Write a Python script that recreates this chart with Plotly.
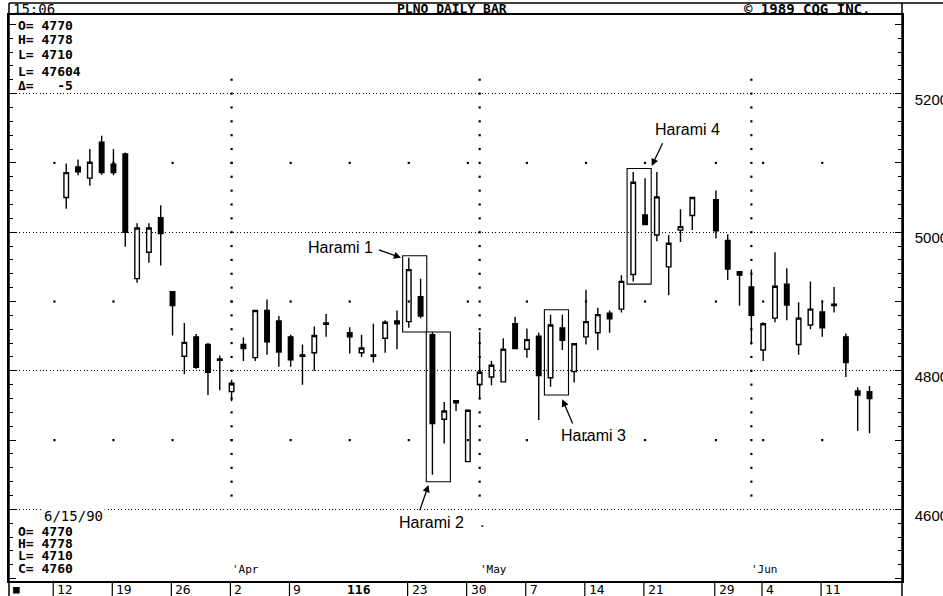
import numpy as np
import plotly.graph_objects as go

# ---------------- data ----------------
dates = [
    "1990-03-13", "1990-03-14", "1990-03-15", "1990-03-16", "1990-03-19",
    "1990-03-20", "1990-03-21", "1990-03-22", "1990-03-23", "1990-03-26",
    "1990-03-27", "1990-03-28", "1990-03-29", "1990-03-30", "1990-04-02",
    "1990-04-03", "1990-04-04", "1990-04-05", "1990-04-06", "1990-04-09",
    "1990-04-10", "1990-04-11", "1990-04-12", "1990-04-16", "1990-04-17",
    "1990-04-18", "1990-04-19", "1990-04-20", "1990-04-23", "1990-04-24",
    "1990-04-25", "1990-04-26", "1990-04-27", "1990-04-30", "1990-05-01",
    "1990-05-02", "1990-05-03", "1990-05-04", "1990-05-07", "1990-05-08",
    "1990-05-09", "1990-05-10", "1990-05-11", "1990-05-14", "1990-05-15",
    "1990-05-16", "1990-05-17", "1990-05-18", "1990-05-21", "1990-05-22",
    "1990-05-23", "1990-05-24", "1990-05-25", "1990-05-29", "1990-05-30",
    "1990-05-31", "1990-06-01", "1990-06-04", "1990-06-05", "1990-06-06",
    "1990-06-07", "1990-06-08", "1990-06-11", "1990-06-12", "1990-06-13",
    "1990-06-14", "1990-06-15",
]
opens = [
    5050, 5094, 5078, 5130, 5098, 5113, 4933, 4971, 5021, 4914,
    4821, 4849, 4838, 4817, 4770, 4838, 4819, 4887, 4872, 4849,
    4823, 4826, 4867, 4855, 4826, 4823, 4847, 4872, 4871, 4907,
    4852, 4730, 4757, 4669, 4780, 4791, 4784, 4868, 4831, 4850,
    4790, 4862, 4799, 4849, 4855, 4883, 4889, 4939, 5025, 4996,
    4950, 5003, 5024, 5047, 4988, 4943, 4921, 4830, 4876, 4925,
    4838, 4866, 4885, 4896, 4849, 4771, 4770,
]
highs = [
    5099, 5105, 5120, 5139, 5120, 5115, 5013, 5013, 5039, 4914,
    4869, 4853, 4840, 4822, 4787, 4848, 4888, 4903, 4879, 4852,
    4838, 4864, 4882, 4863, 4852, 4868, 4873, 4887, 4963, 4933,
    4856, 4755, 4758, 4744, 4856, 4814, 4847, 4878, 4861, 4855,
    4881, 4881, 4840, 4917, 4891, 4887, 4938, 5087, 5078, 5087,
    4996, 5033, 5051, 5060, 4997, 4944, 4946, 4870, 4971, 4948,
    4899, 4929, 4899, 4921, 4854, 4776, 4778,
]
lows = [
    5034, 5082, 5067, 5083, 5082, 4979, 4927, 4956, 4952, 4851,
    4795, 4803, 4765, 4772, 4756, 4814, 4814, 4823, 4806, 4806,
    4780, 4800, 4849, 4825, 4820, 4812, 4826, 4831, 4862, 4876,
    4650, 4695, 4742, 4668, 4760, 4779, 4783, 4831, 4819, 4729,
    4777, 4830, 4783, 4838, 4830, 4855, 4884, 4929, 5010, 4987,
    4909, 4986, 5003, 4991, 4931, 4894, 4838, 4814, 4870, 4873,
    4823, 4860, 4849, 4884, 4791, 4713, 4710,
]
closes = [
    5086, 5087, 5101, 5086, 5086, 5000, 5006, 5006, 4998, 4894,
    4841, 4805, 4798, 4815, 4782, 4832, 4887, 4842, 4827, 4816,
    4821, 4851, 4869, 4849, 4833, 4821, 4870, 4868, 4946, 4879,
    4724, 4742, 4754, 4743, 4798, 4808, 4831, 4832, 4845, 4793,
    4866, 4844, 4839, 4871, 4881, 4875, 4929, 5072, 5011, 5051,
    4984, 5008, 5050, 5002, 4947, 4938, 4880, 4868, 4922, 4895,
    4876, 4889, 4862, 4894, 4812, 4765, 4760,
]

week_dates = ["1990-03-12", "1990-03-19", "1990-03-26", "1990-04-02", "1990-04-09",
              "1990-04-16", "1990-04-23", "1990-04-30", "1990-05-07", "1990-05-14",
              "1990-05-21", "1990-05-29", "1990-06-04", "1990-06-11"]
week_labels = ["12", "19", "26", "2", "9", "116", "23", "30", "7", "14", "21", "29", "4", "11"]
month_dates = ["1990-04-02", "1990-05-01", "1990-06-01"]
month_labels = ["'Apr", "'May", "'Jun"]
price_levels = [4600, 4800, 5000, 5200]
dot_levels = [4700, 4900, 5100]

header_left = "15:06"
header_title = "PLNO DAILY BAR"
header_right = "\u00a9 1989 CQG INC."
quote_top = ["O= 4770", "H= 4778", "L= 4710", "L= 47604", "\u0394=   -5"]
quote_date = "6/15/90"
quote_bottom = ["O= 4770", "H= 4778", "L= 4710", "C= 4760"]

harami_names = ["Harami 1", "Harami 2", "Harami 3", "Harami 4"]
harami_first = ["1990-04-23", "1990-04-25", "1990-05-09", "1990-05-18"]
harami_last = ["1990-04-24", "1990-04-26", "1990-05-10", "1990-05-21"]
harami_low = [4856, 4640, 4765, 4925]
harami_high = [4966, 4856, 4888, 5092]

# ---------------- geometry helpers ----------------
W, H = 943, 596
ML, MR, MT, MB = 9, 41, 15, 15
PW, PH = W - ML - MR, H - MT - MB
BASE = "1990-03-12"


def slot(d):
    return int(np.busday_count(BASE, d))


def pxx(p):  # pixel x -> paper
    return (p - ML) / PW


def pxy(p):  # pixel y -> paper
    return (H - MB - p) / PH


X_PER_SLOT = 11.813
X0_PIX = 54.4
Y_PER_UNIT = 0.693
Y_MID_PIX, Y_MID = 301.5, 4900


def dx(pix):  # pixel x -> slot units
    return (pix - X0_PIX) / X_PER_SLOT


def dy(pix):  # pixel y -> price
    return Y_MID - (pix - Y_MID_PIX) / Y_PER_UNIT


xr = [dx(ML), dx(W - MR)]
yr = [dy(H - MB), dy(MT)]

MONO = "DejaVu Sans Mono, monospace"
SANS = "Liberation Sans, Arial, sans-serif"
BLACK = "black"

x = [slot(d) for d in dates]

fig = go.Figure()
fig.add_trace(go.Candlestick(
    x=x, open=opens, high=highs, low=lows, close=closes,
    increasing=dict(line=dict(color=BLACK, width=1.4), fillcolor="white"),
    decreasing=dict(line=dict(color=BLACK, width=1.4), fillcolor=BLACK),
    whiskerwidth=0, hoverinfo="skip", showlegend=False,
))

# dotted grid marks (month columns every 20 points, weekly dots at odd hundreds)
gx, gy = [], []
for m in month_dates:
    for lv in range(4620, 5221, 20):
        gx.append(slot(m))
        gy.append(lv)
for w in week_dates:
    for lv in dot_levels:
        gx.append(slot(w))
        gy.append(lv)
fig.add_trace(go.Scatter(x=gx, y=gy, mode="markers", yaxis="y2",
                         marker=dict(size=2.2, color=BLACK, symbol="square"),
                         hoverinfo="skip", showlegend=False))

shapes = []
annotations = []

# frame
shapes.append(dict(type="line", xref="paper", yref="paper", x0=pxx(ML), x1=pxx(W), y0=pxy(3), y1=pxy(3),
                   line=dict(color=BLACK, width=1.5)))
shapes.append(dict(type="line", xref="paper", yref="paper", x0=0, x1=0, y0=pxy(3), y1=pxy(H),
                   line=dict(color=BLACK, width=1.5)))
shapes.append(dict(type="line", xref="paper", yref="paper", x0=1, x1=1, y0=pxy(3), y1=pxy(H),
                   line=dict(color=BLACK, width=1.5)))

# header
annotations.append(dict(text=header_left, xref="paper", yref="paper", x=pxx(11), y=pxy(9),
                        xanchor="left", yanchor="middle", showarrow=False,
                        font=dict(family=MONO, size=14, color=BLACK)))
annotations.append(dict(text="<b>" + header_title + "</b>", xref="paper", yref="paper", x=pxx(452), y=pxy(9),
                        xanchor="center", yanchor="middle", showarrow=False,
                        font=dict(family=MONO, size=13, color=BLACK)))
annotations.append(dict(text="<b>" + header_right + "</b>", xref="paper", yref="paper", x=pxx(742), y=pxy(9),
                        xanchor="left", yanchor="middle", showarrow=False,
                        font=dict(family=MONO, size=14, color=BLACK)))

for t, yy in zip(quote_top, [25, 40, 55, 71, 85]):
    annotations.append(dict(text="<b>" + t + "</b>", xref="paper", yref="paper", x=pxx(16), y=pxy(yy),
                            xanchor="left", yanchor="middle", showarrow=False,
                            font=dict(family=MONO, size=13, color=BLACK)))

annotations.append(dict(text=quote_date, xref="paper", yref="paper", x=pxx(42), y=pxy(516),
                        xanchor="left", yanchor="middle", showarrow=False, bgcolor="white",
                        font=dict(family=MONO, size=14, color=BLACK)))
for t, yy in zip(quote_bottom, [531, 543, 555, 568]):
    annotations.append(dict(text="<b>" + t + "</b>", xref="paper", yref="paper", x=pxx(16), y=pxy(yy),
                            xanchor="left", yanchor="middle", showarrow=False,
                            font=dict(family=MONO, size=13, color=BLACK)))

# date band
annotations.append(dict(text="\u25a0", xref="paper", yref="paper", x=pxx(16), y=pxy(589),
                        xanchor="center", yanchor="middle", showarrow=False,
                        font=dict(family=MONO, size=11, color=BLACK)))
for w, lab in zip(week_dates, week_labels):
    xs = slot(w) - 0.1
    if lab != "116":
        shapes.append(dict(type="line", xref="x", yref="paper", x0=xs, x1=xs, y0=0, y1=pxy(H),
                           line=dict(color=BLACK, width=1.2)))
        annotations.append(dict(text=lab, xref="x", yref="paper", x=xs, xshift=2, y=pxy(589),
                                xanchor="left", yanchor="middle", showarrow=False,
                                font=dict(family=MONO, size=13, color=BLACK)))
    else:
        annotations.append(dict(text="<b>" + lab + "</b>", xref="x", yref="paper", x=xs, xshift=-4,
                                y=pxy(589), xanchor="left", yanchor="middle", showarrow=False,
                                font=dict(family=MONO, size=13, color=BLACK)))
for m, lab in zip(month_dates, month_labels):
    annotations.append(dict(text=lab, xref="x", yref="paper", x=slot(m), xshift=-2, y=pxy(569),
                            xanchor="left", yanchor="middle", showarrow=False,
                            font=dict(family=MONO, size=11, color=BLACK)))

# harami boxes, labels and arrows
for d0, d1, lo, hi in zip(harami_first, harami_last, harami_low, harami_high):
    shapes.append(dict(type="rect", xref="x", yref="y", x0=slot(d0) - 0.52, x1=slot(d1) + 0.52,
                       y0=lo, y1=hi, line=dict(color=BLACK, width=1.1)))

label_pix = [(340, 247), (431.7, 522.7), (593.3, 435), (687, 129)]
tip_pix = [(401, 257.7), (428.5, 485), (562.3, 399.3), (651.7, 166)]
tail_pix = [(377.3, 249.3), (419.3, 511.7), (573.3, 425), (663.3, 141.7)]
for name, (lx, ly), (tx, ty), (ax_, ay_) in zip(harami_names, label_pix, tip_pix, tail_pix):
    annotations.append(dict(text=name, xref="x", yref="y", x=dx(lx), y=dy(ly), showarrow=False,
                            xanchor="center", yanchor="middle",
                            font=dict(family=SANS, size=16, color=BLACK)))
    annotations.append(dict(text="", xref="x", yref="y", x=dx(tx), y=dy(ty), showarrow=True,
                            ax=ax_ - tx, ay=ay_ - ty, arrowhead=2, arrowsize=1.1, arrowwidth=1.3,
                            arrowcolor=BLACK, standoff=0, startstandoff=0))
annotations.append(dict(text=".", xref="x", yref="y", x=dx(482), y=dy(521), showarrow=False,
                        font=dict(family=SANS, size=16, color=BLACK)))

ticks100 = list(range(4500, 5301, 100))
fig.update_layout(
    width=W, height=H,
    margin=dict(l=ML, r=MR, t=MT, b=MB, pad=0, autoexpand=False),
    paper_bgcolor="white", plot_bgcolor="white",
    font=dict(color=BLACK),
    showlegend=False, boxgap=0.45,
    xaxis=dict(range=xr, showgrid=False, zeroline=False, showticklabels=False, ticks="",
               showline=True, linecolor=BLACK, linewidth=1.5, mirror=True,
               rangeslider=dict(visible=False), fixedrange=True),
    yaxis=dict(range=yr, side="right", showgrid=False, zeroline=False,
               tickmode="array", tickvals=ticks100,
               ticktext=[str(v) if v in price_levels else "" for v in ticks100],
               ticks="inside", ticklen=7, tickwidth=1.3, tickcolor=BLACK,
               minor=dict(tickmode="linear", tick0=4500, dtick=20, ticks="inside", ticklen=4,
                          tickwidth=1, tickcolor=BLACK, showgrid=False),
               mirror="allticks", showline=True, linecolor=BLACK, linewidth=1.5,
               ticklabelstandoff=8, ticklabelshift=6,
               tickfont=dict(family=SANS, size=15, color=BLACK), automargin=False),
    yaxis2=dict(range=yr, overlaying="y", side="right", showgrid=True, gridcolor=BLACK,
                gridwidth=1.2, griddash="1px,2.4px", tickmode="array", tickvals=price_levels,
                showticklabels=False, ticks="", zeroline=False, showline=False, automargin=False),
    shapes=shapes, annotations=annotations,
)

fig.write_html("out.html", config={"displayModeBar": False},
               post_script="document.body.style.margin='0';document.body.style.overflow='hidden';")
